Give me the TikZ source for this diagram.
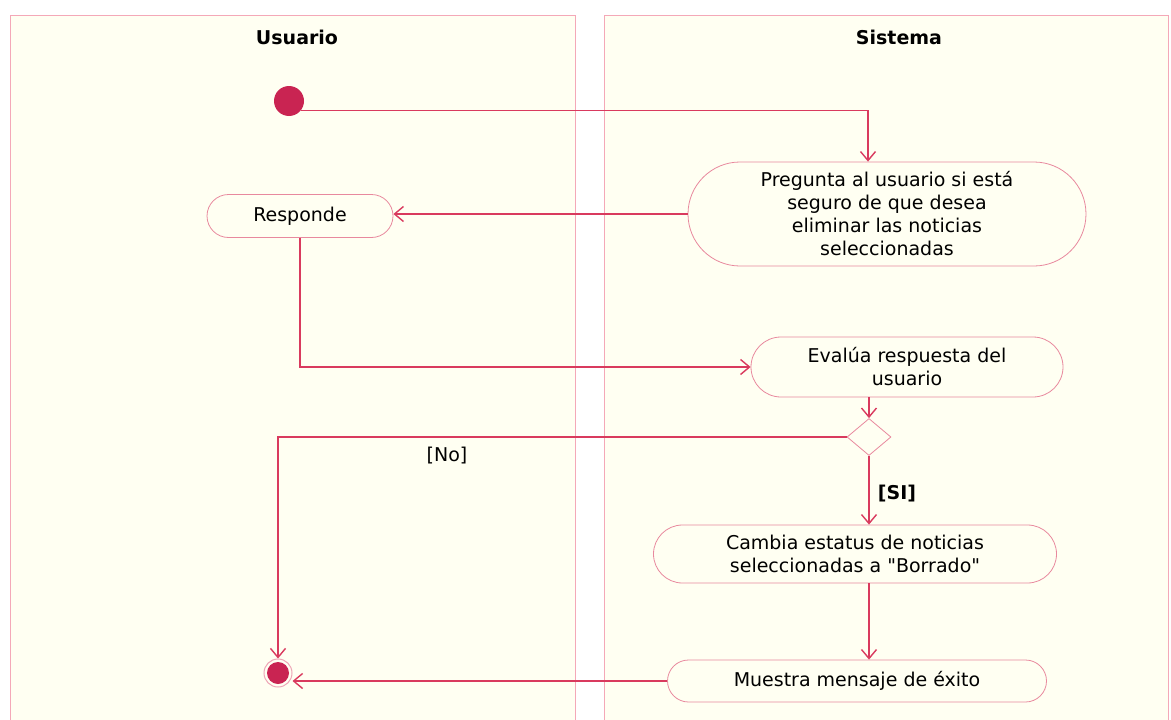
\documentclass[tikz,border=0pt]{standalone}
\usepackage{fontspec}
\setmainfont{DejaVu Sans}
\usetikzlibrary{shapes.misc,shapes.geometric,arrows.meta}

\definecolor{lane}{HTML}{FFFFF2}
\definecolor{laneline}{HTML}{F4A8B8}
\definecolor{flow}{HTML}{D93A5E}
\definecolor{dot}{HTML}{C92452}

\begin{document}
\begin{tikzpicture}[x=1pt,y=-1pt,font=\fontsize{19}{23}\selectfont,>={Straight Barb[length=9pt,width=15pt]},
  act/.style={rounded rectangle,draw=flow!60,fill=lane,line width=0.8pt,align=center,inner sep=2pt},
  link/.style={->,draw=flow,line width=1.4pt}]
\useasboundingbox (0,0) rectangle (1171,720);
\fill[white] (0,0) rectangle (1171,720);
\draw[laneline,fill=lane] (10,15) rectangle (575,725);
\draw[laneline,fill=lane] (604,15) rectangle (1168,725);

\node[font=\fontsize{19}{20}\selectfont\bfseries] (usr) at (297,37) {Usuario};
\node[font=\fontsize{19}{20}\selectfont\bfseries] (sis) at (899,37) {Sistema};

\node[circle,fill=dot,minimum size=30pt,inner sep=0pt] (start) at (289,101) {};
\node[act,minimum width=402pt,minimum height=104pt] (preg) at (887,214)
  {Pregunta al usuario si está\\seguro de que desea\\eliminar las noticias\\seleccionadas};
\node[act,minimum width=190pt,minimum height=43pt] (resp) at (300,216) {Responde};
\node[act,minimum width=316pt,minimum height=60pt] (eval) at (907,367) {Evalúa respuesta del\\usuario};
\node[diamond,draw=flow!60,fill=lane,line width=0.8pt,minimum width=44pt,minimum height=37pt,inner sep=0pt] (dec) at (869,437) {};
\node[act,minimum width=407pt,minimum height=58pt] (camb) at (855,554) {Cambia estatus de noticias\\seleccionadas a \textquotedbl Borrado\textquotedbl};
\node[act,minimum width=383pt,minimum height=42pt] (mues) at (857,681) {Muestra mensaje de éxito};
\node[circle,draw=flow!45,line width=1pt,minimum size=28pt,inner sep=0pt] (end) at (278,673) {};
\fill[dot] (end) circle (11pt);

\draw[link] (start.-40) -| ([xshift=-19pt]preg.north);
\draw[link] (preg.west) -- (preg.west -| resp.east);
\draw[link] (resp.south) |- (eval.west);
\draw[link] (dec.north |- eval.south) -- (dec.north);
\draw[link] (dec.west) -| (end.north);
\draw[link] (dec.south) -- (dec.south |- camb.north);
\draw[link] (dec.south |- camb.south) -- (dec.south |- mues.north);
\draw[link] (mues.west) -- (mues.west -| end.east);

\node (no) at (447,456) {[No]};
\node[font=\fontsize{19}{23}\selectfont\bfseries] (si) at (897,494) {[SI]};
\end{tikzpicture}
\end{document}
